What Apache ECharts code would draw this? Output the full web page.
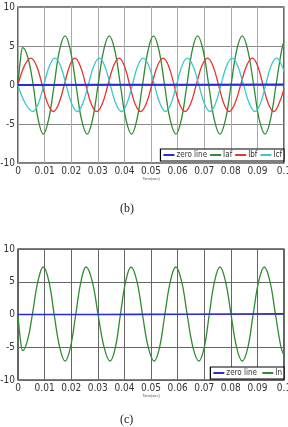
<!DOCTYPE html>
<html>
<head>
<meta charset="utf-8">
<script src="https://cdn.jsdelivr.net/npm/echarts@6/dist/echarts.min.js"></script>
<style>
  html, body { margin: 0; padding: 0; background: #fff; }
  #main { width: 288px; height: 427px; }
</style>
</head>
<body>
<div id="main"></div>
<script>
// x tick labels (time, sec)
var timeTicks = ['0', '0.01', '0.02', '0.03', '0.04', '0.05', '0.06', '0.07', '0.08', '0.09', '0.1']

// (b) filter currents, [time, amps]
var zeroTop = [[0, 0], [0.05, 0.03], [0.1, 0.05]]
var iaf = [
  [0, 0], [0.0009, 3.2], [0.0018, 4.8], [0.0038, 3.4], [0.0057, 0], [0.0076, -4.45], [0.0095, -6.3],
  [0.0115, -4.45], [0.0136, 0], [0.0156, 4.45], [0.0177, 6.3], [0.0197, 4.45], [0.0218, 0],
  [0.0239, -4.45], [0.026, -6.3], [0.028, -4.45], [0.0301, 0], [0.0322, 4.45], [0.0343, 6.3],
  [0.0364, 4.45], [0.0385, 0], [0.0406, -4.45], [0.0427, -6.3], [0.0447, -4.45], [0.0468, 0],
  [0.0489, 4.45], [0.0509, 6.3], [0.053, 4.45], [0.0551, 0], [0.0572, -4.45], [0.0594, -6.3],
  [0.0614, -4.45], [0.0635, 0], [0.0655, 4.45], [0.0675, 6.3], [0.0696, 4.45], [0.0717, 0],
  [0.0738, -4.45], [0.0759, -6.3], [0.078, -4.45], [0.0801, 0], [0.0822, 4.45], [0.0843, 6.3],
  [0.0864, 4.45], [0.0886, 0], [0.0907, -4.45], [0.0929, -6.3], [0.0949, -4.45], [0.097, 0],
  [0.0991, 4.45], [0.1, 5.6]
]
var ibf = [
  [0, 0], [0.0024, 2.45], [0.0048, 3.45], [0.007, 2.45], [0.0091, 0], [0.0112, -2.4], [0.0133, -3.4],
  [0.0153, -2.4], [0.0174, 0], [0.0194, 2.45], [0.0214, 3.45], [0.0234, 2.45], [0.0255, 0],
  [0.0275, -2.4], [0.0296, -3.4], [0.0317, -2.4], [0.0338, 0], [0.0359, 2.45], [0.038, 3.45],
  [0.04, 2.45], [0.042, 0], [0.044, -2.4], [0.0461, -3.4], [0.0482, -2.4], [0.0503, 0],
  [0.0524, 2.45], [0.0546, 3.45], [0.0566, 2.45], [0.0587, 0], [0.0607, -2.4], [0.0628, -3.4],
  [0.0649, -2.4], [0.067, 0], [0.0691, 2.45], [0.0713, 3.45], [0.0733, 2.45], [0.0754, 0],
  [0.0774, -2.4], [0.0794, -3.4], [0.0815, -2.4], [0.0837, 0], [0.0859, 2.45], [0.0881, 3.45],
  [0.0901, 2.45], [0.0921, 0], [0.0941, -2.4], [0.0962, -3.4], [0.0981, -2.4], [0.1, -0.5]
]
var icf = [
  [0, 0], [0.0028, -2.4], [0.0056, -3.4], [0.0076, -2.4], [0.0097, 0], [0.0118, 2.45], [0.0139, 3.45],
  [0.016, 2.45], [0.0181, 0], [0.0202, -2.4], [0.0223, -3.4], [0.0243, -2.4], [0.0264, 0],
  [0.0285, 2.45], [0.0306, 3.45], [0.0326, 2.45], [0.0347, 0], [0.0368, -2.4], [0.0389, -3.4],
  [0.0409, -2.4], [0.043, 0], [0.045, 2.45], [0.0471, 3.45], [0.0492, 2.45], [0.0513, 0],
  [0.0534, -2.4], [0.0555, -3.4], [0.0575, -2.4], [0.0596, 0], [0.0616, 2.45], [0.0637, 3.45],
  [0.0658, 2.45], [0.068, 0], [0.0701, -2.4], [0.0722, -3.4], [0.0742, -2.4], [0.0763, 0],
  [0.0784, 2.45], [0.0805, 3.45], [0.0826, 2.45], [0.0848, 0], [0.087, -2.4], [0.0891, -3.4],
  [0.0911, -2.4], [0.0931, 0], [0.0951, 2.45], [0.0972, 3.45], [0.0992, 2.5], [0.1, 1.7]
]

// (c) neutral current
var zeroBot = [[0, 0], [0.045, 0.02], [0.1, 0.12]]
var inCur = [
  [0, 0], [0.0009, -3.8], [0.0018, -5.5], [0.0036, -3.9], [0.0054, 0], [0.0075, 5.1], [0.0095, 7.25],
  [0.0116, 5.1], [0.0136, 0], [0.0157, -5.05], [0.0177, -7.1], [0.0197, -5.05], [0.0217, 0],
  [0.0237, 5.1], [0.0256, 7.25], [0.0279, 5.1], [0.0301, 0], [0.0324, -5.05], [0.0346, -7.1],
  [0.0366, -5.05], [0.0385, 0], [0.0405, 5.1], [0.0425, 7.25], [0.0447, 5.1], [0.0468, 0],
  [0.049, -5.05], [0.0512, -7.1], [0.0532, -5.05], [0.0552, 0], [0.0573, 5.1], [0.0593, 7.25],
  [0.0615, 5.1], [0.0636, 0], [0.0658, -5.05], [0.068, -7.1], [0.07, -5.05], [0.0719, 0],
  [0.0739, 5.1], [0.0759, 7.25], [0.078, 5.1], [0.0801, 0], [0.0822, -5.05], [0.0843, -7.1],
  [0.0864, -5.05], [0.0884, 0], [0.0905, 5.1], [0.0926, 7.25], [0.0947, 5.1], [0.0968, 0],
  [0.0989, -5.05], [0.1, -6.2]
]

var mychart = echarts.init(document.getElementById('main'))

var narrow = 'Liberation Sans Narrow, DejaVu Sans Condensed, Liberation Sans, sans-serif'
var labelFont = { color: '#333', fontSize: 10, fontFamily: narrow, margin: 3 }

function xAxisFor(idx, gridColor) {
  return {
    gridIndex: idx, type: 'value', min: 0, max: 0.1, interval: 0.01,
    name: 'Time(sec)', nameLocation: 'middle', nameGap: 14,
    nameTextStyle: { fontSize: 4, color: '#555' },
    axisLine: { show: false }, axisTick: { show: false },
    axisLabel: Object.assign({}, labelFont, {
      formatter: function (v) { return timeTicks[Math.round(v * 100)] }
    }),
    splitLine: { show: true, lineStyle: { color: gridColor, width: 1 } }
  }
}

function yAxisFor(idx, label, gridColor) {
  return {
    gridIndex: idx, type: 'value', min: -10, max: 10, interval: 5,
    name: label, nameLocation: 'middle', nameGap: 14,
    nameTextStyle: { fontSize: 4, color: '#555' },
    axisLine: { show: false }, axisTick: { show: false },
    axisLabel: labelFont,
    splitLine: { show: true, lineStyle: { color: gridColor, width: 1 } }
  }
}

function line(name, data, color, w, xi) {
  return {
    name: name, type: 'line', data: data, xAxisIndex: xi, yAxisIndex: xi,
    smooth: 0.4, showSymbol: false, lineStyle: { color: color, width: w },
    itemStyle: { color: color }, z: name.indexOf('zero') === 0 ? 5 : 3
  }
}

var legendBase = {
  orient: 'horizontal', right: 4,
  backgroundColor: '#fff', borderColor: '#000', borderWidth: 1.2,
  padding: [2, 2, 2, 3], itemGap: 3, itemWidth: 11, itemHeight: 2,
  icon: 'rect',
  textStyle: { fontSize: 8, color: '#333', fontFamily: narrow, padding: [0, 0, 0, -3] }
}

var option = {
  animation: false,
  grid: [
    { left: 18, top: 7, width: 266, height: 156, containLabel: false, outerBoundsMode: 'none', show: true, borderColor: '#000', borderWidth: 1.2, backgroundColor: 'transparent' },
    { left: 18, top: 249, width: 266, height: 131, containLabel: false, outerBoundsMode: 'none', show: true, borderColor: '#000', borderWidth: 1.2, backgroundColor: 'transparent' }
  ],
  xAxis: [xAxisFor(0, '#aaa'), xAxisFor(1, '#666')],
  yAxis: [yAxisFor(0, 'Current(Amps)', '#888'), yAxisFor(1, 'Neutral Current(Amps)', '#666')],
  legend: [
    Object.assign({}, legendBase, { top: 149, data: ['zero line', 'Iaf', 'Ibf', 'Icf'] }),
    Object.assign({}, legendBase, { top: 367, data: ['zero line ', 'In'] })
  ],
  graphic: [
    { type: 'text', left: 120, top: 203, style: { text: '(b)', fontSize: 12, fontFamily: 'Liberation Serif', fill: '#222' } },
    { type: 'text', left: 120, top: 414, style: { text: '(c)', fontSize: 12, fontFamily: 'Liberation Serif', fill: '#222' } }
  ],
  series: [
    line('zero line', zeroTop, '#2b2bd8', 2, 0),
    line('Iaf', iaf, '#2e8b2e', 1.3, 0),
    line('Ibf', ibf, '#e8342e', 1.3, 0),
    line('Icf', icf, '#3cc8c8', 1.3, 0),
    line('zero line ', zeroBot, '#2b2bd8', 1.6, 1),
    line('In', inCur, '#2e8b2e', 1.3, 1)
  ]
}

mychart.setOption(option)
</script>
</body>
</html>
